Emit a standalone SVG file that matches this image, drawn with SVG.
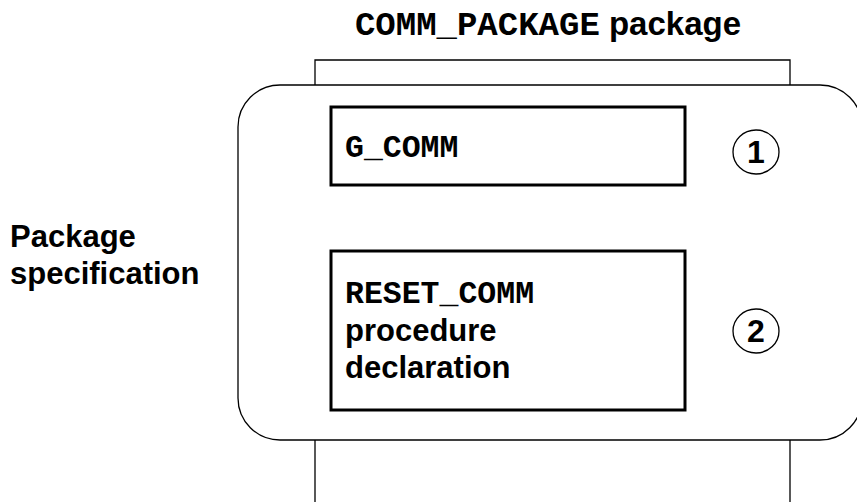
<svg xmlns="http://www.w3.org/2000/svg" width="857" height="502" viewBox="0 0 857 502">
<style>
.line{fill:none;stroke:#000;stroke-width:1.3}
.box{fill:#fff;stroke:#000;stroke-width:3}
.num{fill:#fff;stroke:#000;stroke-width:1.3}
.sans{font-family:"Liberation Sans",Arial,sans-serif;font-weight:bold;fill:#000}
.mono{font-family:"Liberation Mono","Courier New",monospace;font-weight:bold;fill:#000}
</style>
<rect width="857" height="502" fill="#fff"/>
<text x="548" y="35" text-anchor="middle"><tspan class="mono" font-size="34">COMM_PACKAGE</tspan><tspan class="sans" font-size="33"> package</tspan></text>
<g id="package">
<path class="line" d="M315,85 V60 H790 V85"/>
<rect class="line" x="238" y="85" width="624" height="355" rx="42" ry="42"/>
<path class="line" d="M315,440 V502 M790,440 V502"/>
</g>
<g id="label">
<text class="sans" font-size="31" x="10" y="247">Package</text>
<text class="sans" font-size="31" x="10" y="284">specification</text>
</g>
<g id="gcomm">
<rect class="box" x="331" y="107" width="354" height="78"/>
<text class="mono" font-size="31.5" x="345" y="157">G_COMM</text>
</g>
<g id="n1">
<ellipse class="num" cx="756" cy="152" rx="23" ry="22"/>
<text class="sans" font-size="32" x="756" y="163" text-anchor="middle">1</text>
</g>
<g id="reset">
<rect class="box" x="331" y="251" width="354" height="159"/>
<text class="mono" font-size="31.5" x="345" y="303">RESET_COMM</text>
<text class="sans" font-size="31" x="345" y="341">procedure</text>
<text class="sans" font-size="31" x="345" y="378">declaration</text>
</g>
<g id="n2">
<ellipse class="num" cx="756" cy="331" rx="23" ry="22"/>
<text class="sans" font-size="32" x="756" y="342" text-anchor="middle">2</text>
</g>
<g id="connectors"></g>
</svg>
